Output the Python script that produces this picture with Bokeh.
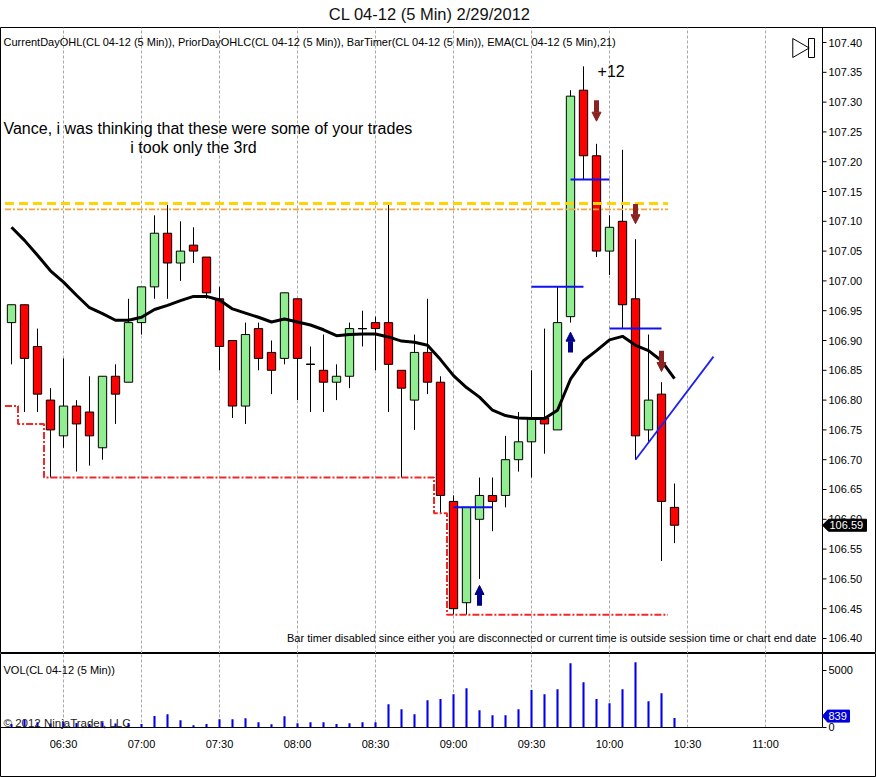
from math import pi
from bokeh.plotting import figure
from bokeh.models import Range1d, FixedTicker, Label, Arrow, NormalHead, ColumnDataSource
from bokeh.layouts import column
from bokeh.embed import file_html
from bokeh.resources import INLINE
from bokeh.core.properties import value

# ---------------- data ----------------
title_text = "CL 04-12 (5 Min)  2/29/2012"
indicator_text = ("CurrentDayOHL(CL 04-12 (5 Min)), PriorDayOHLC(CL 04-12 (5 Min)), "
                  "BarTimer(CL 04-12 (5 Min)), EMA(CL 04-12 (5 Min),21)")
note_line1 = "Vance, i was thinking that these were some of your trades"
note_line2 = "i took only the 3rd"
profit_text = "+12"
bartimer_text = ("Bar timer disabled since either you are disconnected or current time "
                 "is outside session time or chart end date")
vol_title = "VOL(CL 04-12 (5 Min))"
copyright_text = "\u00a9 2012 NinjaTrader, LLC"

bar_times = ["06:10", "06:15", "06:20", "06:25", "06:30", "06:35", "06:40", "06:45",
             "06:50", "06:55", "07:00", "07:05", "07:10", "07:15", "07:20", "07:25",
             "07:30", "07:35", "07:40", "07:45", "07:50", "07:55", "08:00", "08:05",
             "08:10", "08:15", "08:20", "08:25", "08:30", "08:35", "08:40", "08:45",
             "08:50", "08:55", "09:00", "09:05", "09:10", "09:15", "09:20", "09:25",
             "09:30", "09:35", "09:40", "09:45", "09:50", "09:55", "10:00", "10:05",
             "10:10", "10:15", "10:20", "10:25"]

opens = [106.93, 106.96, 106.89, 106.80, 106.74, 106.79, 106.78, 106.72, 106.84, 106.83,
         106.93, 106.99, 107.08, 107.03, 107.06, 107.04, 106.97, 106.90, 106.79, 106.92,
         106.88, 106.87, 106.97, 106.86, 106.85, 106.83, 106.84, 106.92, 106.93, 106.93,
         106.85, 106.80, 106.88, 106.83, 106.63, 106.46, 106.60, 106.64, 106.64, 106.70,
         106.73, 106.77, 106.75, 106.94, 107.32, 107.21, 107.05, 107.10, 106.97, 106.75,
         106.81, 106.62]
highs = [106.96, 106.96, 106.92, 106.82, 106.87, 106.80, 106.84, 106.84, 106.86, 106.97,
         106.99, 107.11, 107.13, 107.10, 107.09, 107.04, 106.99, 106.90, 106.93, 106.93,
         106.90, 106.98, 106.97, 106.89, 106.91, 106.86, 106.93, 106.95, 106.94, 107.13,
         106.85, 106.91, 106.97, 106.84, 106.64, 106.62, 106.67, 106.67, 106.74, 106.78,
         106.85, 106.92, 106.99, 107.32, 107.36, 107.23, 107.11, 107.22, 107.07, 106.91,
         106.83, 106.66]
lows = [106.86, 106.78, 106.78, 106.67, 106.72, 106.68, 106.69, 106.70, 106.76, 106.83,
        106.91, 106.97, 106.97, 107.00, 107.03, 106.97, 106.85, 106.77, 106.76, 106.85,
        106.81, 106.86, 106.80, 106.78, 106.78, 106.80, 106.82, 106.89, 106.85, 106.78,
        106.67, 106.75, 106.81, 106.61, 106.44, 106.44, 106.50, 106.58, 106.62, 106.68,
        106.67, 106.71, 106.75, 106.93, 107.17, 107.04, 107.01, 106.92, 106.70, 106.73,
        106.53, 106.56]
closes = [106.96, 106.87, 106.81, 106.75, 106.79, 106.76, 106.74, 106.84, 106.81, 106.93,
          106.99, 107.08, 107.03, 107.05, 107.05, 106.98, 106.89, 106.79, 106.91, 106.87,
          106.85, 106.98, 106.87, 106.86, 106.83, 106.84, 106.92, 106.92, 106.92, 106.86,
          106.82, 106.88, 106.83, 106.64, 106.45, 106.62, 106.64, 106.63, 106.70, 106.73,
          106.77, 106.76, 106.93, 107.31, 107.21, 107.05, 107.09, 106.96, 106.74, 106.80,
          106.63, 106.59]
ema21 = [107.090, 107.068, 107.043, 107.017, 106.998, 106.976, 106.955, 106.945, 106.934,
         106.934, 106.939, 106.952, 106.959, 106.967, 106.974, 106.974, 106.968, 106.953,
         106.946, 106.939, 106.931, 106.936, 106.931, 106.926, 106.918, 106.908, 106.910,
         106.911, 106.911, 106.906, 106.899, 106.897, 106.892, 106.868, 106.841, 106.821,
         106.805, 106.783, 106.774, 106.770, 106.769, 106.769, 106.783, 106.835, 106.866,
         106.883, 106.901, 106.907, 106.892, 106.883, 106.866, 106.836]
volumes = [300, 700, 450, 350, 500, 400, 300, 450, 350, 400,
           300, 1000, 1170, 640, 200, 300, 730, 720, 820, 470,
           290, 990, 380, 460, 450, 300, 380, 470, 460, 2050,
           1600, 1170, 2400, 2490, 2920, 3450, 1520, 1080, 1070, 1610,
           3280, 2920, 3360, 5640, 3980, 2490, 2130, 3360, 5730, 2310,
           3010, 839]

# current-day low (step line), one value per bar, bars 1..51
day_low_line = [106.79, 106.76, 106.76] + [106.67] * 30 + [106.61] + [106.44] * 17
prior_high_level = 107.13   # yellow dashed
prior_close_level = 107.12  # orange dash-dot

# trade marks
level_x0 = ["09:00", "09:30", "09:45", "10:00"]
level_x1 = ["09:15", "09:50", "10:00", "10:20"]
level_y = [106.62, 106.99, 107.17, 106.92]
trend_x = ["10:10", "10:40"]
trend_y = [106.70, 106.873]
up_arrow_t = ["09:10", "09:45"]
up_arrow_y0 = [106.455, 106.880]
up_arrow_y1 = [106.489, 106.914]
dn_arrow_t = ["09:55", "10:10", "10:20"]
dn_arrow_y0 = [107.303, 107.129, 106.883]
dn_arrow_y1 = [107.268, 107.096, 106.848]

x_tick_labels = ["06:30", "07:00", "07:30", "08:00", "08:30", "09:00", "09:30",
                 "10:00", "10:30", "11:00"]
price_tick_labels = ["106.40", "106.45", "106.50", "106.55", "106.60", "106.65", "106.70",
                     "106.75", "106.80", "106.85", "106.90", "106.95", "107.00", "107.05",
                     "107.10", "107.15", "107.20", "107.25", "107.30", "107.35", "107.40"]
vol_tick_labels = ["0", "5000"]
last_price_label = "106.59"
last_vol_label = "839"

# ---------------- layout constants (screen geometry) ----------------
def tmin(s):
    return int(s[:2]) * 60 + int(s[3:])

tx = [tmin(s) for s in bar_times]
xt_pos = [tmin(s) for s in x_tick_labels]
FONT = "Liberation Sans"
GRID_COLOR = "#a8a8a8"
PX_PER_MIN = 2.6
XR = Range1d(365.77, 702.69)
AXIS_X = 681.92                       # x position of the right price axis
TICK_LEN = 4 / PX_PER_MIN
LABEL_X = AXIS_X + 6 / PX_PER_MIN
PR = Range1d(106.3748, 107.4252)
PX_PER_PRICE = 596.0
VR = Range1d(-4386, 6491)
PX_PER_VOL = 57 / 5000

# ---------------- title ----------------
pt = figure(width=876, height=27, x_range=Range1d(0, 876), y_range=Range1d(0, 27),
            output_backend="svg", toolbar_location=None, min_border=0,
            x_axis_location=None, y_axis_location=None, outline_line_color=None)
pt.grid.visible = False
pt.add_layout(Label(x=431.5, y=13.5, text=title_text, text_align="center",
                    text_baseline="middle", text_font=FONT, text_font_size="16.5px",
                    text_color="#111111"))

# ---------------- price panel ----------------
p = figure(width=876, height=626, x_range=XR, y_range=PR,
           output_backend="svg", toolbar_location=None, x_axis_location=None,
           y_axis_location=None, min_border=0)
p.outline_line_color = "black"
p.outline_line_width = 1
p.ygrid.visible = False
g = p.xgrid[0]
g.ticker = FixedTicker(ticks=xt_pos)
g.grid_line_color = GRID_COLOR
g.grid_line_dash = "3 2"
g.grid_line_width = 1

colors = ["#90EE90" if c > o else ("#FF0000" if c < o else "black")
          for o, c in zip(opens, closes)]
src = ColumnDataSource(dict(x=tx, o=opens, h=highs, l=lows, c=closes,
                            top=[max(o, c) for o, c in zip(opens, closes)],
                            bot=[min(o, c) for o, c in zip(opens, closes)],
                            color=colors))
p.segment("x", "h", "x", "l", source=src, line_color="black", line_width=1)
p.vbar("x", 3.2, "top", "bot", source=src, fill_color="color", line_color="black",
       line_width=1)
doji = [i for i in range(len(tx)) if opens[i] == closes[i]]
p.segment([tx[i] - 1.6 for i in doji], [opens[i] for i in doji],
          [tx[i] + 1.6 for i in doji], [opens[i] for i in doji],
          line_color="black", line_width=1.2)

# EMA
p.line(tx, ema21, line_color="black", line_width=3)

# prior-day levels
lv_x = [tx[0] - 2.5, tx[len(day_low_line) - 1] + 2.5]
p.line(lv_x, [prior_high_level] * 2, line_color="#FFD400", line_width=3, line_dash="9 5")
p.line(lv_x, [prior_close_level] * 2, line_color="#F5A53C", line_width=1.6,
       line_dash="6 2 2 2")

# current day low step line
n = len(day_low_line)
step_x = [tx[i] - 2.5 for i in range(n)] + [tx[n - 1] + 2.5]
step_y = day_low_line + [day_low_line[-1]]
p.step(step_x, step_y, mode="after", line_color="#F02828", line_width=2,
       line_dash="7 2 2 2")

# trade marks
p.segment([tmin(s) for s in level_x0], level_y, [tmin(s) for s in level_x1], level_y,
          line_color="#1010F0", line_width=2)
p.line([tmin(s) for s in trend_x], trend_y, line_color="#2020F0", line_width=1.8)

up_src = ColumnDataSource(dict(x=[tmin(s) for s in up_arrow_t], y0=up_arrow_y0, y1=up_arrow_y1))
p.add_layout(Arrow(end=NormalHead(size=9, fill_color="#00008B", line_color="#00008B"),
                   source=up_src, x_start="x", y_start="y0", x_end="x", y_end="y1",
                   line_color="#00008B", line_width=5))
dn_src = ColumnDataSource(dict(x=[tmin(s) for s in dn_arrow_t], y0=dn_arrow_y0, y1=dn_arrow_y1))
p.add_layout(Arrow(end=NormalHead(size=9, fill_color="#8B2323", line_color="#8B2323"),
                   source=dn_src, x_start="x", y_start="y0", x_end="x", y_end="y1",
                   line_color="#8B2323", line_width=5))

# right price axis (drawn inside the panel so the price tag can sit on it)
price_pos = [float(s) for s in price_tick_labels]
p.segment([AXIS_X], [PR.start], [AXIS_X], [PR.end], line_color="black", line_width=1)
p.segment([AXIS_X] * len(price_pos), price_pos, [AXIS_X + TICK_LEN] * len(price_pos),
          price_pos, line_color="black", line_width=1)
p.text([LABEL_X] * len(price_pos), price_pos, text=price_tick_labels,
       text_font=value(FONT), text_font_size="11px", text_color="black",
       text_align="left", text_baseline="middle")

# last price tag
c_last = closes[-1]
half_h = 6 / PX_PER_PRICE
tag_x0 = AXIS_X
tag_x1 = AXIS_X + 6 / PX_PER_MIN
tag_x2 = AXIS_X + 44 / PX_PER_MIN
p.patches([[tag_x0, tag_x1, tag_x2, tag_x2, tag_x1]],
          [[c_last, c_last + half_h, c_last + half_h, c_last - half_h, c_last - half_h]],
          fill_color="black", line_color="black")
p.text([AXIS_X + 7 / PX_PER_MIN], [c_last], text=[last_price_label],
       text_font=value(FONT), text_font_size="11px", text_color="white",
       text_align="left", text_baseline="middle")

# texts
p.add_layout(Label(x=366.92, y=107.4017, text=indicator_text, text_baseline="middle",
                   text_font=FONT, text_font_size="11px", text_color="black"))
p.add_layout(Label(x=366.92, y=107.2557, text=note_line1, text_baseline="middle",
                   text_font=FONT, text_font_size="16px", text_color="black"))
p.add_layout(Label(x=440.0, y=107.2238, text=note_line2, text_baseline="middle",
                   text_align="center", text_font=FONT, text_font_size="16px",
                   text_color="black"))
p.add_layout(Label(x=595.4, y=107.353, text=profit_text, text_baseline="middle",
                   text_font=FONT, text_font_size="16px", text_color="black"))
p.add_layout(Label(x=679.6, y=106.401, text=bartimer_text, text_baseline="middle",
                   text_align="right", text_font=FONT, text_font_size="11px",
                   text_color="black"))

# scroll-to-end icon
p.scatter([672.6], [107.3908], marker="triangle", size=19, angle=-pi / 2,
          fill_color=None, line_color="black", line_width=1)
p.rect([677.7], [107.3908], width=6, height=19, width_units="screen",
       height_units="screen", fill_color=None, line_color="black", line_width=1)

# ---------------- volume panel ----------------
pv = figure(width=876, height=124, x_range=XR, y_range=VR,
            output_backend="svg", toolbar_location=None, x_axis_location=None,
            y_axis_location=None, min_border=0)
pv.outline_line_color = "black"
pv.grid.visible = False

# grid lines limited to the volume area
pv.segment(xt_pos, [0] * len(xt_pos), xt_pos, [VR.end] * len(xt_pos),
           line_color=GRID_COLOR, line_dash="3 2", line_width=1)
pv.vbar(tx, 0.8, volumes, 0, fill_color="#0000EE", line_color=None)

# axes
pv.segment([XR.start], [0], [AXIS_X], [0], line_color="black", line_width=1)
pv.segment([AXIS_X], [0], [AXIS_X], [VR.end], line_color="black", line_width=1)
vol_pos = [float(s) for s in vol_tick_labels]
pv.segment([AXIS_X] * len(vol_pos), vol_pos, [AXIS_X + TICK_LEN] * len(vol_pos), vol_pos,
           line_color="black", line_width=1)
pv.text([LABEL_X] * len(vol_pos), vol_pos, text=vol_tick_labels, text_font=value(FONT),
        text_font_size="11px", text_color="black", text_align="left",
        text_baseline="middle")
xlab_y = -17 / PX_PER_VOL
pv.text(xt_pos, [xlab_y] * len(xt_pos), text=x_tick_labels, text_font=value(FONT),
        text_font_size="11px", text_color="black", text_align="center",
        text_baseline="middle")

# last volume tag
v_last = 1000
vh = 6 / PX_PER_VOL
pv.patches([[AXIS_X, AXIS_X + 5 / PX_PER_MIN, AXIS_X + 27 / PX_PER_MIN,
             AXIS_X + 27 / PX_PER_MIN, AXIS_X + 5 / PX_PER_MIN]],
           [[v_last, v_last + vh, v_last + vh, v_last - vh, v_last - vh]],
           fill_color="#0000DD", line_color="#0000DD")
pv.text([AXIS_X + 6 / PX_PER_MIN], [v_last], text=[last_vol_label], text_font=value(FONT),
        text_font_size="11px", text_color="white", text_align="left",
        text_baseline="middle")

pv.add_layout(Label(x=366.92, y=5000, text=vol_title, text_baseline="middle",
                    text_font=FONT, text_font_size="11px", text_color="black"))
pv.add_layout(Label(x=366.92, y=351, text=copyright_text, text_baseline="middle",
                    text_font=FONT, text_font_size="11.5px", text_color="#222222"))

layout = column(pt, p, pv, spacing=0)

open("out.html", "w").write(file_html(layout, INLINE))
